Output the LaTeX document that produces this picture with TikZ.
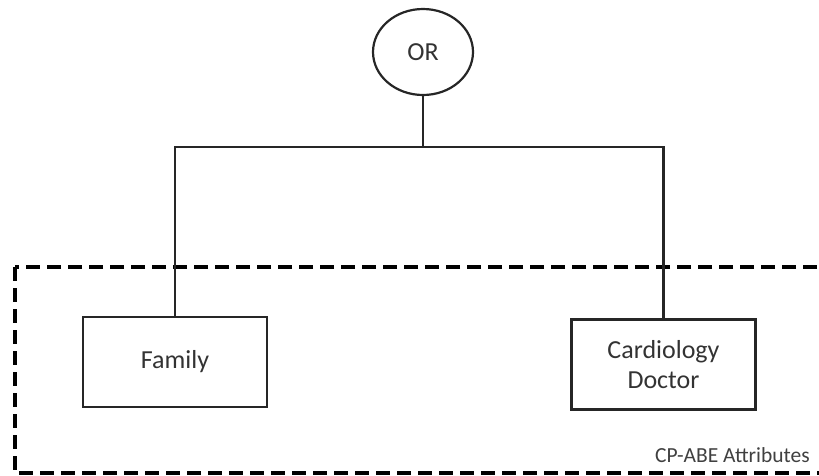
\documentclass[tikz,border=0pt]{standalone}
\usepackage{fontspec}
\setmainfont{Carlito}
\usetikzlibrary{shapes.geometric}
\begin{document}
\begin{tikzpicture}[x=1pt,y=-1pt,
  gate/.style={draw=black!85,line width=2.2pt,ellipse,minimum width=100pt,minimum height=86pt,inner sep=0pt,font=\fontsize{26}{29}\selectfont,text=black!80},
  attr/.style={draw=black!85,line width=2.2pt,rectangle,minimum width=184pt,minimum height=90pt,align=center,inner sep=0pt,font=\fontsize{26}{30}\selectfont,text=black!80},
  link/.style={draw=black!85,line width=2.2pt},
  region/.style={draw=black,line width=3.8pt,dash pattern=on 14pt off 7pt}]
\useasboundingbox (0,0) rectangle (819,475);
\clip (0,0) rectangle (819,475);
% policy region
\draw[region] (15,267) rectangle (840,473);
\node[anchor=south east,inner sep=0pt,font=\fontsize{21.5}{24}\selectfont,text=black!75] (lbl) at (810,463) {CP-ABE Attributes};
% access tree
\node[gate] (or) at (423,52) {OR};
\node[attr] (fam) at (175,362) {Family};
\node[attr] (card) at (663.5,364.5) {Cardiology\\Doctor};
\coordinate (j) at (423,147);
\draw[link] (or.south) -- (j);
\draw[link] (fam.north) |- (j) -| (card.north);
\end{tikzpicture}
\end{document}
